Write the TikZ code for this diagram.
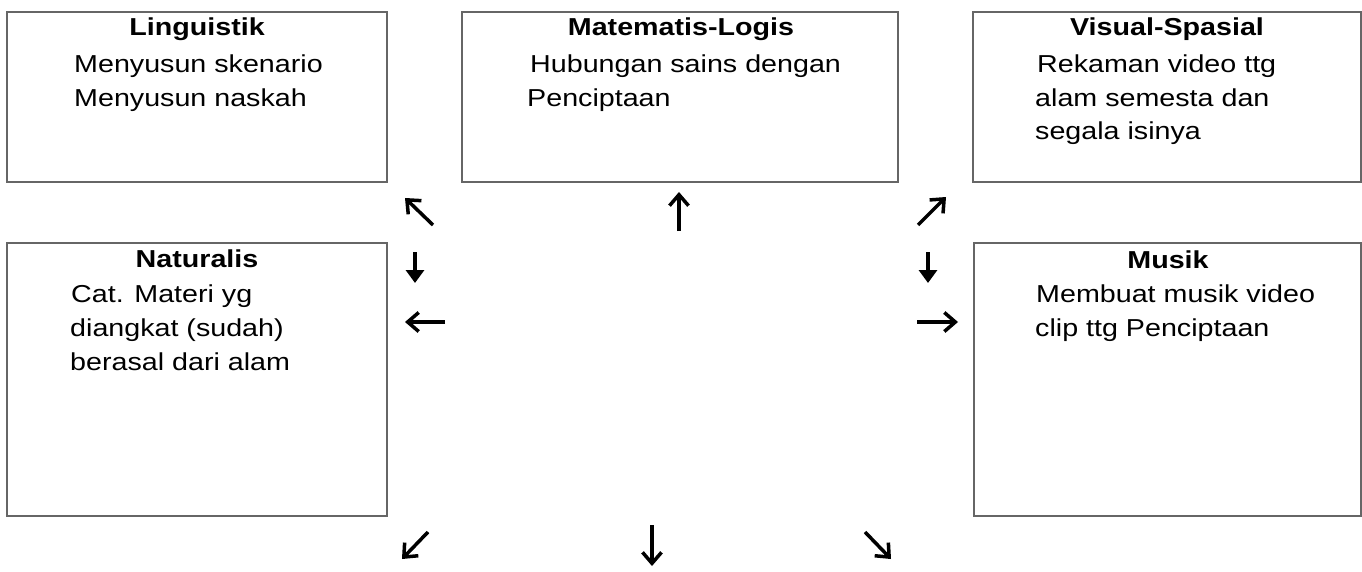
\documentclass[tikz,border=0pt]{standalone}
\usepackage{fontspec}
\setmainfont{Liberation Sans}[FakeStretch=1.17]
\usetikzlibrary{arrows.meta}
\definecolor{boxgray}{RGB}{102,102,102}
\begin{document}
\begin{tikzpicture}[x=1pt,y=-1pt,
  box/.style={draw=boxgray,line width=2pt,rectangle,inner sep=0pt,outer sep=0pt},
  ttl/.style={anchor=base,inner sep=0pt,font=\fontsize{24.5}{34}\selectfont\bfseries},
  txt/.style={anchor=base west,inner sep=0pt,font=\fontsize{24.5}{34}\selectfont},
  openarrow/.style={line width=3.5pt,-{Straight Barb[length=11pt,width=19pt]}},
  fillarrow/.style={line width=3.2pt,-{Triangle[length=13pt,width=18pt]}}]
\useasboundingbox (0,0) rectangle (1362,572);
% boxes
\node[box,minimum width=380pt,minimum height=170pt] (b1) at (197,97) {};
\node[box,minimum width=436pt,minimum height=170pt] (b2) at (680,97) {};
\node[box,minimum width=388pt,minimum height=170pt] (b3) at (1167,97) {};
\node[box,minimum width=380pt,minimum height=273pt] (b4) at (197,379.5) {};
\node[box,minimum width=387pt,minimum height=273pt] (b5) at (1167.5,379.5) {};
% titles
\node[ttl] (t1) at (197,36) {Linguistik};
\node[ttl] (t2) at (681,36) {Matematis-Logis};
\node[ttl] (t3) at (1167,36) {Visual-Spasial};
\node[ttl] (t4) at (197,267) {Naturalis};
\node[ttl] (t5) at (1168,268) {Musik};
% body texts
\node[txt] (l1a) at (74,73) {Menyusun skenario};
\node[txt] (l1b) at (74,107) {Menyusun naskah};
\node[txt] (l2a) at (530,73) {Hubungan sains dengan};
\node[txt] (l2b) at (527,107) {Penciptaan};
\node[txt] (l3a) at (1037,73) {Rekaman video ttg};
\node[txt] (l3b) at (1035,107) {alam semesta dan};
\node[txt] (l3c) at (1035,140) {segala isinya};
\node[txt] (l4a) at (71,302) {Cat. Materi yg};
\node[txt] (l4b) at (70,336) {diangkat (sudah)};
\node[txt] (l4c) at (70,370) {berasal dari alam};
\node[txt] (l5a) at (1036,302) {Membuat musik video};
\node[txt] (l5b) at (1035,336) {clip ttg Penciptaan};
% arrow end points
\coordinate (a1s) at (433,225); \coordinate (a1e) at (405,198);
\coordinate (a2s) at (415,252); \coordinate (a2e) at (415,283);
\coordinate (a3s) at (445,322); \coordinate (a3e) at (405,322);
\coordinate (a4s) at (679,231); \coordinate (a4e) at (679,192);
\coordinate (a5s) at (918,225); \coordinate (a5e) at (946,197);
\coordinate (a6s) at (928,252); \coordinate (a6e) at (928,283);
\coordinate (a7s) at (917,322); \coordinate (a7e) at (958,322);
\coordinate (a8s) at (428,532); \coordinate (a8e) at (402,559);
\coordinate (a9s) at (652,525); \coordinate (a9e) at (652,566);
\coordinate (a10s) at (865,532); \coordinate (a10e) at (891,559);
% arrows
\draw[openarrow] (a1s) -- (a1e);
\draw[fillarrow] (a2s) -- (a2e);
\draw[openarrow] (a3s) -- (a3e);
\draw[openarrow] (a4s) -- (a4e);
\draw[openarrow] (a5s) -- (a5e);
\draw[fillarrow] (a6s) -- (a6e);
\draw[openarrow] (a7s) -- (a7e);
\draw[openarrow] (a8s) -- (a8e);
\draw[openarrow] (a9s) -- (a9e);
\draw[openarrow] (a10s) -- (a10e);
\end{tikzpicture}
\end{document}
